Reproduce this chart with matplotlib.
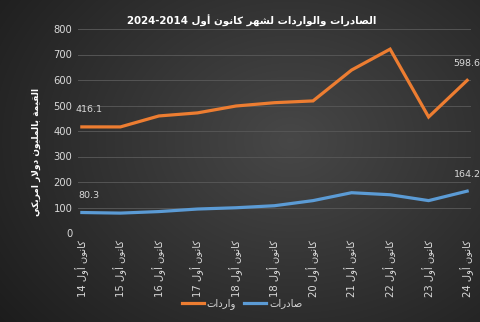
import numpy as np
import matplotlib
matplotlib.use("Agg")
import matplotlib.pyplot as plt

# December figures, million USD
years = ["14", "15", "16", "17", "18", "18", "20", "21", "22", "23", "24"]
imports = [416.1, 416.0, 459.0, 471.0, 498.0, 511.0, 518.0, 639.0, 721.0, 455.0, 598.6]
exports = [80.3, 78.0, 84.0, 94.0, 99.0, 107.0, 127.0, 158.0, 150.0, 127.0, 164.2]

ORANGE = "#ED7D31"
BLUE = "#5B9BD5"
TXT = "#d9d9d9"

# Arabic presentation forms: (isolated, final, initial, medial)
FORMS = {
    "ا": (0xFE8D, 0xFE8E, None, None),
    "أ": (0xFE83, 0xFE84, None, None),
    "ب": (0xFE8F, 0xFE90, 0xFE91, 0xFE92),
    "ة": (0xFE93, 0xFE94, None, None),
    "ت": (0xFE95, 0xFE96, 0xFE97, 0xFE98),
    "د": (0xFEA9, 0xFEAA, None, None),
    "ر": (0xFEAD, 0xFEAE, None, None),
    "ش": (0xFEB5, 0xFEB6, 0xFEB7, 0xFEB8),
    "ص": (0xFEB9, 0xFEBA, 0xFEBB, 0xFEBC),
    "ق": (0xFED5, 0xFED6, 0xFED7, 0xFED8),
    "ك": (0xFED9, 0xFEDA, 0xFEDB, 0xFEDC),
    "ل": (0xFEDD, 0xFEDE, 0xFEDF, 0xFEE0),
    "م": (0xFEE1, 0xFEE2, 0xFEE3, 0xFEE4),
    "ن": (0xFEE5, 0xFEE6, 0xFEE7, 0xFEE8),
    "ه": (0xFEE9, 0xFEEA, 0xFEEB, 0xFEEC),
    "و": (0xFEED, 0xFEEE, None, None),
    "ي": (0xFEF1, 0xFEF2, 0xFEF3, 0xFEF4),
}
LAM_ALEF = {"ا": (0xFEFB, 0xFEFC), "أ": (0xFEF7, 0xFEF8)}


def dual(c):
    return c in FORMS and FORMS[c][2] is not None


def rtl(text):
    """Shape Arabic text and return it in visual (left-to-right) order."""
    out = []
    i = 0
    n = len(text)
    while i < n:
        c = text[i]
        prev = text[i - 1] if i > 0 else ""
        joins_prev = dual(prev)
        if c == "ل" and i + 1 < n and text[i + 1] in LAM_ALEF:
            iso, fin = LAM_ALEF[text[i + 1]]
            out.append(chr(fin if joins_prev else iso))
            i += 2
            continue
        if c not in FORMS:
            out.append(c)
            i += 1
            continue
        nxt = text[i + 1] if i + 1 < n else ""
        joins_next = dual(c) and nxt in FORMS
        iso, fin, ini, med = FORMS[c]
        if joins_prev and joins_next:
            g = med
        elif joins_prev:
            g = fin
        elif joins_next:
            g = ini
        else:
            g = iso
        out.append(chr(g))
        i += 1
    return "".join(reversed(out))


plt.rcParams["font.family"] = ["DejaVu Sans"]

fig = plt.figure(figsize=(4.8, 3.22), dpi=100)

# dark radial background
bg = fig.add_axes([0, 0, 1, 1], zorder=-10)
yy, xx = np.mgrid[0:322, 0:480]
r = np.sqrt(((xx - 290) / 330.0) ** 2 + ((yy - 140) / 260.0) ** 2)
shade = np.clip(0.28 - 0.15 * r, 0.09, 0.29)
bg.imshow(np.dstack([shade] * 3), aspect="auto", extent=[0, 1, 0, 1])
bg.axis("off")

ax = fig.add_axes([78 / 480, 89 / 322, 393 / 480, 204 / 322])
ax.set_facecolor("none")
x = np.arange(len(years))

ax.plot(x, imports, color=ORANGE, lw=2.3, solid_joinstyle="miter", label=rtl("واردات"))
ax.plot(x, exports, color=BLUE, lw=2.3, solid_joinstyle="miter", label=rtl("صادرات"))

# value labels on first and last points
for series in (imports, exports):
    for idx, dx in ((0, 5), (len(series) - 1, 0)):
        ax.annotate(f"{series[idx]:.1f}", (x[idx], series[idx]), xytext=(dx, 9),
                    textcoords="offset points", ha="center", va="bottom",
                    color=TXT, fontsize=6.8)

ax.set_xlim(-0.1, 10.1)
ax.set_ylim(0, 800)
ax.set_yticks(range(0, 801, 100))
ax.set_xticks(x)
ax.set_xticklabels([y + " " + rtl("كانون أول") for y in years], rotation=90,
                   va="top", ha="center")
ax.grid(axis="y", color="#555555", lw=0.7)
ax.tick_params(length=0, colors=TXT, labelsize=7.2)
ax.tick_params(axis="y", pad=4)
ax.tick_params(axis="x", pad=5)
for s in ax.spines.values():
    s.set_visible(False)

fig.text(252 / 480, 1 - 21 / 322, "2024-2014 " + rtl("الصادرات والواردات لشهر كانون أول"),
         ha="center", va="center", color="white", fontsize=7.4, fontweight="bold")
fig.text(36 / 480, 1 - 152 / 322, rtl("القيمة بالمليون دولار امريكي"), rotation=90,
         ha="center", va="center", color="white", fontsize=6.5, fontweight="bold")

leg = fig.legend(loc="center", bbox_to_anchor=(242 / 480, 1 - 304 / 322), ncol=2,
                 frameon=False, fontsize=7.2, handlelength=2.2, handletextpad=0.3,
                 columnspacing=0.8)
for t in leg.get_texts():
    t.set_color(TXT)

fig.savefig("out.png", dpi=100)
